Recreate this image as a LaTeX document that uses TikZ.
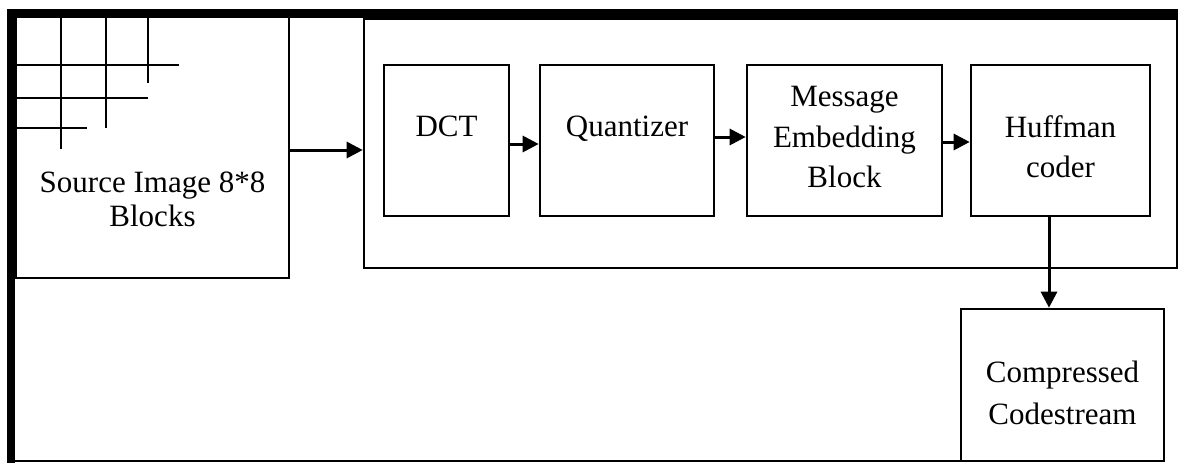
\documentclass[tikz,border=0pt]{standalone}
\usepackage{fontspec}
\setmainfont{Liberation Serif}
\usetikzlibrary{arrows.meta}
\begin{document}
\begin{tikzpicture}[x=1pt,y=-1pt,
  box/.style={draw, line width=2.6pt, inner sep=0pt},
  txt/.style={anchor=base, inner sep=0pt, font=\fontsize{31}{40}\selectfont},
  flow/.style={line width=3pt, -{Triangle[length=16pt,width=16pt]}},
  gridline/.style={line width=2.6pt},
  barline/.style={line width=9pt}]
\useasboundingbox (0,0) rectangle (1178,463);

% blocks
\node[box, minimum width=273pt, minimum height=261pt] (src) at (152.5,147.5) {};
\node[box, minimum width=813pt, minimum height=249pt] (cont) at (770.5,143.5) {};
\node[box, minimum width=125pt, minimum height=151pt] (dct) at (446.5,140.5) {};
\node[box, minimum width=174pt, minimum height=151pt] (quant) at (627,140.5) {};
\node[box, minimum width=195pt, minimum height=151pt] (msg) at (844.5,140.5) {};
\node[box, minimum width=179pt, minimum height=151pt] (huff) at (1060.5,140.5) {};
\node[box, minimum width=203pt, minimum height=152pt] (out) at (1062.5,385) {};

% 8x8 block grid in the corner of the source image
\draw[gridline] (61,17) -- (61,149);
\draw[gridline] (106,17) -- (106,128);
\draw[gridline] (148,17) -- (148,83);
\draw[gridline] (16,65) -- (179,65);
\draw[gridline] (16,98) -- (148,98);
\draw[gridline] (16,128) -- (87,128);

% labels
\node[txt] (srcA) at (152.5,192) {Source Image 8*8};
\node[txt] (srcB) at (152.5,226) {Blocks};
\node[txt] (dctT) at (446.5,136) {DCT};
\node[txt] (quantT) at (627,136) {Quantizer};
\node[txt] (msgA) at (844.5,106) {Message};
\node[txt] (msgB) at (844.5,147) {Embedding};
\node[txt] (msgC) at (844.5,187) {Block};
\node[txt] (huffA) at (1060.5,137) {Huffman};
\node[txt] (huffB) at (1060.5,177) {coder};
\node[txt] (outA) at (1062.5,382) {Compressed};
\node[txt] (outB) at (1062.5,424) {Codestream};

% data flow
\draw[flow] (src.east |- 0,150) -- (cont.west |- 0,150);
\draw[flow] (dct.east |- 0,144) -- (quant.west |- 0,144);
\draw[flow] (quant.east |- 0,137) -- (msg.west |- 0,137);
\draw[flow] (msg.east |- 0,142) -- (huff.west |- 0,142);
\draw[flow] (huff.south -| 1049,0) -- (out.north -| 1049,0);

% page frame
\draw[line width=2.6pt] (15,461) -- (1164,461);
\draw[barline] (7,13.5) -- (1178,13.5);
\draw[line width=8pt] (11,9) -- (11,463);
\end{tikzpicture}
\end{document}
